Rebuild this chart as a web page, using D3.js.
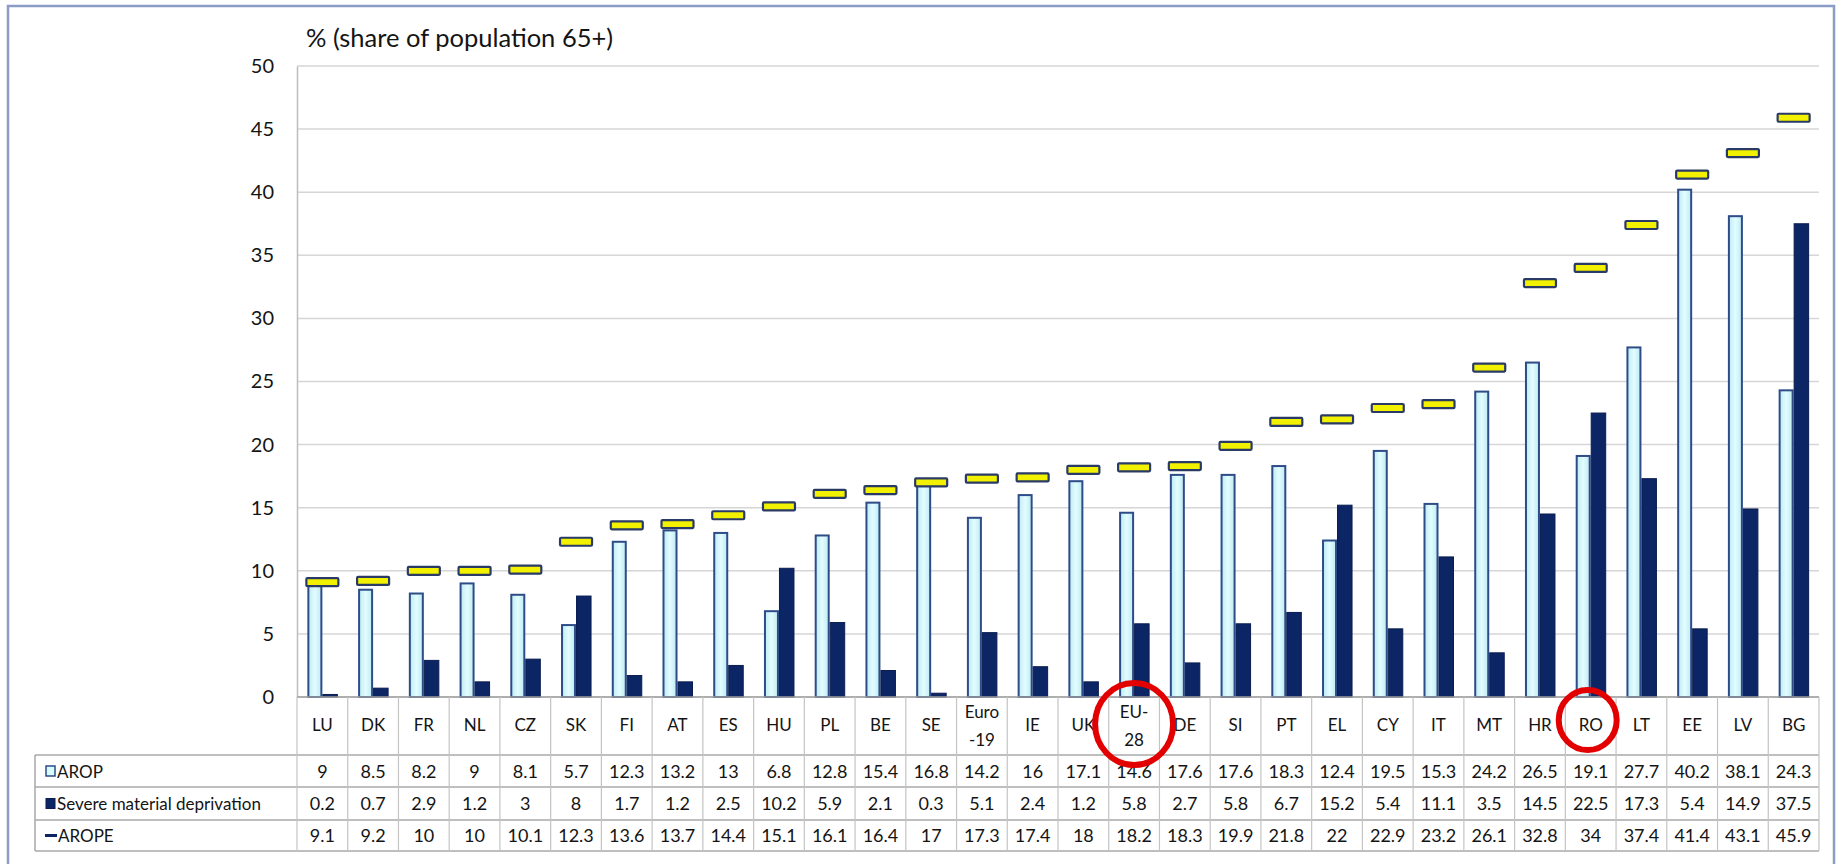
<!DOCTYPE html>
<html>
<head>
<meta charset="utf-8">
<script src="https://cdn.jsdelivr.net/npm/d3@7"></script>
<style>
  html, body { margin: 0; padding: 0; background: #fff; }
  svg { display: block; }
  text { font-family: Lato, "Open Sans", sans-serif; fill: #141414; }
</style>
</head>
<body>
<div id="chart"></div>
<script>
const categories = ["LU","DK","FR","NL","CZ","SK","FI","AT","ES","HU","PL","BE","SE","Euro-19","IE","UK","EU-28","DE","SI","PT","EL","CY","IT","MT","HR","RO","LT","EE","LV","BG"];
const arop = [9,8.5,8.2,9,8.1,5.7,12.3,13.2,13,6.8,12.8,15.4,16.8,14.2,16,17.1,14.6,17.6,17.6,18.3,12.4,19.5,15.3,24.2,26.5,19.1,27.7,40.2,38.1,24.3];
const smd = [0.2,0.7,2.9,1.2,3,8,1.7,1.2,2.5,10.2,5.9,2.1,0.3,5.1,2.4,1.2,5.8,2.7,5.8,6.7,15.2,5.4,11.1,3.5,14.5,22.5,17.3,5.4,14.9,37.5];
const arope = [9.1,9.2,10,10,10.1,12.3,13.6,13.7,14.4,15.1,16.1,16.4,17,17.3,17.4,18,18.2,18.3,19.9,21.8,22,22.9,23.2,26.1,32.8,34,37.4,41.4,43.1,45.9];
const yTicks = [0,5,10,15,20,25,30,35,40,45,50];
const seriesNames = ["AROP","Severe material deprivation","AROPE"];
const categoryLines = {"Euro-19": ["Euro","-19"], "EU-28": ["EU-","28"]};
const highlighted = ["EU-28","RO"];
const title = "% (share of population 65+)";

const W = 1841, H = 864;
const plot = {left: 297, right: 1819, top: 66, bottom: 697};
const tableLeft = 35;
const rowY = [755, 787, 820, 851];

const colors = {
  arop: "#d8fbfd", aropStroke: "#2d4c88",
  smd: "#0c2565", smdStroke: "#0a1c50",
  arope: "#f2f200", aropeStroke: "#2a3a66",
  grid: "#d6d6d6", table: "#a9a9a9", frame: "#8b9dc7", red: "#e30000"
};

const svg = d3.select("#chart").append("svg").attr("width", W).attr("height", H);

const defs = svg.append("defs");
const gA = defs.append("linearGradient").attr("id","gA").attr("x1",0).attr("x2",1).attr("y1",0).attr("y2",0);
gA.append("stop").attr("offset","0%").attr("stop-color","#bfeaf2");
gA.append("stop").attr("offset","50%").attr("stop-color","#e2fdff");
gA.append("stop").attr("offset","100%").attr("stop-color","#bfeaf2");

// frame
svg.append("rect").attr("x",8).attr("y",6).attr("width",1826).attr("height",H+20)
  .attr("fill","none").attr("stroke",colors.frame).attr("stroke-width",2.5);

const x = d3.scaleBand().domain(categories).range([plot.left, plot.right]).paddingInner(0).paddingOuter(0);
const bw = x.bandwidth();
const xs = d3.scaleBand().domain(["arop","smd"]).range([0, 30]);
const groupOffset = (bw - 30) / 2;
const y = d3.scaleLinear().domain([0,50]).range([plot.bottom, plot.top]);

// gridlines
svg.append("g").selectAll("line").data(yTicks).join("line")
  .attr("x1", plot.left).attr("x2", plot.right)
  .attr("y1", d => y(d)).attr("y2", d => y(d))
  .attr("stroke", colors.grid).attr("stroke-width", 1.5);

// y axis
const yAxis = svg.append("g").attr("transform", `translate(${plot.left},0)`)
  .call(d3.axisLeft(y).tickValues(yTicks).tickSize(0).tickPadding(23));
yAxis.select(".domain").attr("stroke", "#bdbdbd").attr("stroke-width", 1.5);
yAxis.selectAll("text").style("font-family","Lato, sans-serif").style("font-size","20px").attr("fill","#141414");

// title
svg.append("text").attr("x", 306).attr("y", 47).style("font-size","25.5px").text(title);

// bars
const data = categories.map((c,i) => ({c, arop: arop[i], smd: smd[i], arope: arope[i]}));
svg.append("g").selectAll("rect").data(data).join("rect")
  .attr("x", d => x(d.c) + groupOffset + xs("arop") + 1)
  .attr("width", xs.bandwidth() - 2)
  .attr("y", d => y(d.arop))
  .attr("height", d => y(0) - y(d.arop))
  .attr("fill", "url(#gA)").attr("stroke", colors.aropStroke).attr("stroke-width", 2);
svg.append("g").selectAll("rect").data(data).join("rect")
  .attr("x", d => x(d.c) + groupOffset + xs("smd") + 0.5)
  .attr("width", xs.bandwidth() - 0.5)
  .attr("y", d => y(d.smd))
  .attr("height", d => y(0) - y(d.smd))
  .attr("fill", colors.smd).attr("stroke", colors.smdStroke).attr("stroke-width", 1);

// AROPE markers
svg.append("g").selectAll("rect").data(data).join("rect")
  .attr("x", d => x(d.c) + bw/2 - 16)
  .attr("width", 32)
  .attr("y", d => y(d.arope) - 4)
  .attr("height", 8)
  .attr("rx", 1)
  .attr("fill", colors.arope).attr("stroke", colors.aropeStroke).attr("stroke-width", 2.2);

// x axis line
svg.append("line").attr("x1", plot.left).attr("x2", plot.right).attr("y1", plot.bottom).attr("y2", plot.bottom)
  .attr("stroke", "#9e9e9e").attr("stroke-width", 1.5);

// table
const tg = svg.append("g");
rowY.forEach(yy => {
  tg.append("line").attr("x1", tableLeft).attr("x2", plot.right).attr("y1", yy).attr("y2", yy)
    .attr("stroke", colors.table).attr("stroke-width", 1.5);
});
const bounds = categories.map(c => x(c)).concat([plot.right]);
tg.selectAll("line.v").data(bounds).join("line").attr("class","v")
  .attr("x1", d => d).attr("x2", d => d).attr("y1", plot.bottom).attr("y2", rowY[3])
  .attr("stroke", "#c4c4c4").attr("stroke-width", 1.2);
tg.append("line").attr("x1", tableLeft).attr("x2", tableLeft).attr("y1", rowY[0]).attr("y2", rowY[3])
  .attr("stroke", colors.table).attr("stroke-width", 1.5);

// category labels
const catG = tg.selectAll("text.cat").data(categories).join("text").attr("class","cat")
  .attr("text-anchor","middle").style("font-size","17px");
catG.each(function(c) {
  const lines = categoryLines[c] || [c];
  const t = d3.select(this);
  const cx = x(c) + bw/2;
  if (lines.length === 1) {
    t.append("tspan").attr("x", cx).attr("y", 731).text(lines[0]);
  } else {
    t.append("tspan").attr("x", cx).attr("y", 718).text(lines[0]);
    t.append("tspan").attr("x", cx).attr("y", 746).text(lines[1]);
  }
});

// values in rows
const rows = [arop, smd, arope];
rows.forEach((vals, r) => {
  const cy = (rowY[r] + rowY[r+1]) / 2 + 6.5;
  tg.selectAll(`text.r${r}`).data(vals).join("text").attr("class", `r${r}`)
    .attr("x", (d,i) => x(categories[i]) + bw/2).attr("y", cy)
    .attr("text-anchor","middle").style("font-size","18px").text(d => String(d));
  const ly = (rowY[r] + rowY[r+1]) / 2;
  if (r === 0) {
    tg.append("rect").attr("x", 46).attr("y", ly-5).attr("width", 9).attr("height", 10)
      .attr("fill", colors.arop).attr("stroke", colors.aropStroke).attr("stroke-width", 1.5);
  } else if (r === 1) {
    tg.append("rect").attr("x", 46).attr("y", ly-5).attr("width", 9).attr("height", 10)
      .attr("fill", colors.smd).attr("stroke", colors.smdStroke).attr("stroke-width", 1);
  } else {
    tg.append("line").attr("x1", 45).attr("x2", 57).attr("y1", ly).attr("y2", ly)
      .attr("stroke", colors.smd).attr("stroke-width", 3);
  }
  tg.append("text").attr("x", r === 2 ? 58 : 57).attr("y", cy).style("font-size","17px").text(seriesNames[r]);
});

// highlight circles
const circleSize = {"EU-28": [39, 41, 724], "RO": [29, 30, 720]};
svg.append("g").selectAll("ellipse").data(highlighted).join("ellipse")
  .attr("cx", d => x(d) + bw/2 - (d === "RO" ? 3 : 0))
  .attr("cy", d => circleSize[d][2])
  .attr("rx", d => circleSize[d][0])
  .attr("ry", d => circleSize[d][1])
  .attr("fill", "none").attr("stroke", colors.red).attr("stroke-width", 6);
</script>
</body>
</html>
